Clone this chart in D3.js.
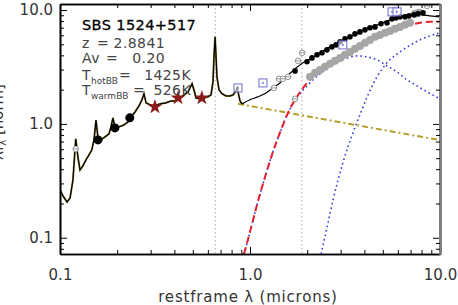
<!DOCTYPE html>
<html><head><meta charset="utf-8">
<script src="https://cdn.jsdelivr.net/npm/d3@7"></script>
<style>body{margin:0;background:#fff} svg{display:block} text{font-family:"DejaVu Sans",sans-serif}</style>
</head><body>
<svg width="458" height="305"></svg>
<script>
// [wavelength (microns), lambda*F_lambda]
var uvSpec = [[0.100,0.263],[0.1037,0.233],[0.109,0.206],[0.113,0.224],[0.117,0.322],[0.121,0.738],[0.1245,0.502],[0.1274,0.394],[0.132,0.428],[0.137,0.483],[0.142,0.534],[0.147,0.591],[0.151,0.723],[0.1547,1.08],[0.1585,0.753],[0.164,0.723],[0.1725,0.769],[0.181,0.817],[0.1855,0.941],[0.190,1.13],[0.1945,0.941],[0.2045,0.941],[0.217,0.98],[0.228,1.04],[0.2365,1.15],[0.248,1.27],[0.2606,1.44],[0.270,1.63],[0.2767,1.84],[0.2838,1.53],[0.2978,1.47],[0.316,1.44],[0.336,1.50],[0.361,1.53],[0.384,1.59],[0.408,1.59],[0.4285,1.69],[0.45,1.80],[0.472,1.91],[0.483,2.07],[0.4955,2.25],[0.507,1.99],[0.52,1.69],[0.5457,1.66],[0.5727,1.69],[0.601,1.73],[0.6235,1.80],[0.6385,2.34],[0.647,4.04],[0.655,5.82],[0.662,4.04],[0.670,2.59],[0.687,1.99],[0.713,1.84],[0.748,1.76],[0.785,1.76],[0.815,1.80],[0.844,1.95],[0.855,2.07],[0.865,1.91],[0.886,1.59],[0.908,1.50]];
var irModel = [[0.908,1.50],[1.0,1.63],[1.102,1.73],[1.213,1.87],[1.321,2.07],[1.438,2.29],[1.567,2.64],[1.726,3.04],[1.90,3.44],[2.12,3.80],[2.335,4.21],[2.637,4.75],[2.98,5.26],[3.36,5.82],[3.79,6.43],[4.28,6.98],[4.83,7.57],[5.46,8.20],[6.16,8.71],[6.95,9.0],[7.85,9.08],[8.85,8.89],[10,8.71]];
var powerLaw = [[0.865,1.50],[10,0.72]];
var bbSum = [[0.930,0.072],[1.0,0.1125],[1.088,0.194],[1.20,0.342],[1.32,0.567],[1.456,0.885],[1.585,1.25],[1.766,1.73],[2.018,2.34],[2.335,2.92],[2.637,3.37],[2.98,3.80],[3.36,4.29],[3.79,4.84],[4.28,5.36],[4.83,5.93],[5.46,6.56],[6.16,6.98],[6.95,7.41],[7.85,7.72],[8.85,7.88],[10,7.88]];
var hotBB = [[0.930,0.072],[1.0,0.1125],[1.088,0.194],[1.20,0.342],[1.32,0.567],[1.456,0.885],[1.585,1.25],[1.766,1.69],[2.018,2.20],[2.335,2.75],[2.735,3.30],[3.16,3.72],[3.66,3.96],[4.13,3.88],[4.66,3.65],[5.26,3.23],[5.94,2.86],[6.70,2.44],[7.57,2.16],[8.55,1.91],[10,1.66]];
var warmBB = [[2.366,0.072],[2.54,0.122],[2.735,0.215],[3.08,0.454],[3.48,0.834],[3.84,1.27],[4.18,1.80],[4.66,2.59],[5.26,3.44],[6.16,4.29],[7.85,5.47],[10,6.31]];
var uvPhot = [[0.1585,0.723],[0.1945,0.922],[0.233,1.13]];
var irPhot = [[1.726,2.92],[1.995,3.51],[2.12,3.80],[2.253,4.04],[2.393,4.21],[2.542,4.47],[2.70,4.75],[2.837,4.94],[2.98,5.26],[3.16,5.58],[3.36,5.82],[3.57,6.18],[3.79,6.43],[4.03,6.70],[4.28,6.98],[4.55,7.11],[4.89,7.57],[5.26,7.72],[5.59,8.37],[5.86,8.54],[6.16,8.71],[6.54,8.71],[6.87,8.89],[7.30,9.08],[7.66,9.27],[8.14,9.46]];
var irsSpec = [[2.07,2.59],[2.20,2.81],[2.335,2.98],[2.48,3.17],[2.637,3.37],[2.80,3.58],[2.98,3.80],[3.16,4.04],[3.36,4.29],[3.57,4.56],[3.79,4.84],[4.03,5.15],[4.28,5.47],[4.55,5.82],[4.83,6.05],[5.14,6.31],[5.46,6.56],[5.79,6.84],[6.16,7.11],[6.54,7.41],[6.95,7.72],[7.38,9.27],[7.74,9.46]];
var starPts = [[0.316,1.41],[0.418,1.69],[0.558,1.69]];
var squarePts = [[0.865,2.07],[1.17,2.29],[3.08,4.94],[5.59,9.64],[5.94,9.64]];
var crossPts = [[0.121,0.603],[1.337,2.07],[1.42,2.49],[1.49,2.49],[1.585,2.59],[1.726,1.66],[1.79,3.58],[1.88,4.21],[8.55,10.9]];
var lineLams = [0.6563, 1.875];
var xMajor = [0.1, 1, 10], xMinor = [0.2,0.3,0.4,0.5,0.6,0.7,0.8,0.9,2,3,4,5,6,7,8,9];
var yMajor = [0.1, 1, 10], yMinor = [0.08,0.09,0.2,0.3,0.4,0.5,0.6,0.7,0.8,0.9,2,3,4,5,6,7,8,9];

var svg = d3.select("svg"),
    L = 60, R = 440, T = 4, B = 254;
var x = d3.scaleLog().domain([0.1, 10]).range([L, R]);
var y = d3.scaleLog().domain([0.072, 11.3]).range([B, T]);
var fmt = d3.format(".1f");

svg.append("clipPath").attr("id", "clip").append("rect")
    .attr("x", L).attr("y", T).attr("width", R - L).attr("height", B - T);
var g = svg.append("g").attr("clip-path", "url(#clip)");

// emission line markers
g.selectAll(".vl").data(lineLams).enter().append("line")
    .attr("x1", d => x(d)).attr("x2", d => x(d)).attr("y1", T).attr("y2", B)
    .attr("stroke", "#aaa").attr("stroke-width", 1).attr("stroke-dasharray", "1.5,2.5");

var line = d3.line().x(d => x(d[0])).y(d => y(d[1]));
var smooth = d3.line().x(d => x(d[0])).y(d => y(d[1])).curve(d3.curveMonotoneX);

g.append("path").attr("d", line(powerLaw)).attr("fill", "none")
    .attr("stroke", "#b59f2c").attr("stroke-width", 2).attr("stroke-dasharray", "6,3,2,3");
g.append("path").attr("d", smooth(hotBB)).attr("fill", "none")
    .attr("stroke", "#3b3be6").attr("stroke-width", 1.6).attr("stroke-dasharray", "1.6,3");
g.append("path").attr("d", smooth(warmBB)).attr("fill", "none")
    .attr("stroke", "#3b3be6").attr("stroke-width", 1.6).attr("stroke-dasharray", "1.6,3");
g.append("path").attr("d", smooth(bbSum)).attr("fill", "none")
    .attr("stroke", "#e8202a").attr("stroke-width", 2).attr("stroke-dasharray", "7,4");

g.append("path").attr("d", line(uvSpec)).attr("fill", "none")
    .attr("stroke", "#7a6c20").attr("stroke-width", 1.9);
g.append("path").attr("d", line(uvSpec)).attr("fill", "none")
    .attr("stroke", "#000").attr("stroke-width", 1.1);
g.append("path").attr("d", smooth(irModel)).attr("fill", "none")
    .attr("stroke", "#000").attr("stroke-width", 1.2);

g.selectAll(".irs").data(irsSpec).enter().append("circle")
    .attr("cx", d => x(d[0])).attr("cy", d => y(d[1])).attr("r", 4)
    .attr("fill", "#a6a6a6");
g.selectAll(".irp").data(irPhot).enter().append("circle")
    .attr("cx", d => x(d[0])).attr("cy", d => y(d[1])).attr("r", 2.8)
    .attr("fill", "#000");
g.selectAll(".uvp").data(uvPhot).enter().append("circle")
    .attr("cx", d => x(d[0])).attr("cy", d => y(d[1])).attr("r", 4.5)
    .attr("fill", "#000");

var cross = g.selectAll(".cr").data(crossPts).enter().append("g")
    .attr("transform", d => "translate(" + x(d[0]) + "," + y(d[1]) + ")");
cross.append("circle").attr("r", 2.8).attr("fill", "#fff").attr("stroke", "#888").attr("stroke-width", 0.9);
cross.append("line").attr("x1", -2.8).attr("x2", 2.8).attr("stroke", "#888").attr("stroke-width", 0.9);

var sq = g.selectAll(".sq").data(squarePts).enter().append("g")
    .attr("transform", d => "translate(" + x(d[0]) + "," + y(d[1]) + ")");
sq.append("rect").attr("x", -4).attr("y", -4).attr("width", 8).attr("height", 8)
    .attr("fill", "#fff").attr("fill-opacity", 0.6).attr("stroke", "#6d6dcc").attr("stroke-width", 1);
sq.append("rect").attr("x", -0.7).attr("y", -1).attr("width", 1.4).attr("height", 2).attr("fill", "#6d6dcc");

g.selectAll(".st").data(starPts).enter().append("path")
    .attr("d", d3.symbol().type(d3.symbolStar).size(70))
    .attr("transform", d => "translate(" + x(d[0]) + "," + y(d[1]) + ")")
    .attr("fill", "#8b1a1a");

// axes
function styleAxis(a, col, w) {
  a.select(".domain").attr("stroke", col).attr("stroke-width", w);
  a.selectAll(".tick line").attr("stroke", "#000").attr("stroke-width", 1);
  a.selectAll("text").attr("font-family", "DejaVu Sans").attr("font-size", 15).attr("fill", "#333");
}
var ax;
ax = svg.append("g").attr("transform", "translate(0," + B + ")")
    .call(d3.axisBottom(x).tickValues(xMajor).tickSize(-7).tickSizeOuter(0).tickPadding(15).tickFormat(fmt));
styleAxis(ax, "#000", 1.6);
ax = svg.append("g").attr("transform", "translate(0," + B + ")")
    .call(d3.axisBottom(x).tickValues(xMinor).tickSize(-4).tickSizeOuter(0).tickFormat(""));
styleAxis(ax, "#000", 1.6);
ax = svg.append("g").attr("transform", "translate(0," + T + ")")
    .call(d3.axisTop(x).tickValues(xMajor).tickSize(-7).tickSizeOuter(0).tickFormat(""));
styleAxis(ax, "#000", 1.6);
ax = svg.append("g").attr("transform", "translate(0," + T + ")")
    .call(d3.axisTop(x).tickValues(xMinor).tickSize(-4).tickSizeOuter(0).tickFormat(""));
styleAxis(ax, "#000", 1.6);
ax = svg.append("g").attr("transform", "translate(" + L + ",0)")
    .call(d3.axisLeft(y).tickValues(yMajor).tickSize(-7).tickSizeOuter(0).tickPadding(7).tickFormat(fmt));
styleAxis(ax, "#000", 1.6);
ax = svg.append("g").attr("transform", "translate(" + L + ",0)")
    .call(d3.axisLeft(y).tickValues(yMinor).tickSize(-4).tickSizeOuter(0).tickFormat(""));
styleAxis(ax, "#000", 1.6);
ax = svg.append("g").attr("transform", "translate(" + R + ",0)")
    .call(d3.axisRight(y).tickValues(yMajor).tickSize(-7).tickSizeOuter(0).tickFormat(""));
styleAxis(ax, "#808080", 3);
ax = svg.append("g").attr("transform", "translate(" + R + ",0)")
    .call(d3.axisRight(y).tickValues(yMinor).tickSize(-4).tickSizeOuter(0).tickFormat(""));
styleAxis(ax, "#808080", 3);

// axis titles
svg.append("text").attr("x", 248).attr("y", 302).attr("text-anchor", "middle")
    .attr("font-size", 15).attr("letter-spacing", 0.8).attr("fill", "#333")
    .text("restframe λ (microns)");
var yl = svg.append("text").attr("transform", "translate(3,122) rotate(-90)")
    .attr("text-anchor", "middle").attr("font-size", 15).attr("fill", "#333");
yl.append("tspan").text("λf");
yl.append("tspan").attr("font-size", 10).attr("dy", 3).text("λ");
yl.append("tspan").attr("dy", -3).text(" [norm]");

// info block
svg.append("text").attr("x", 82).attr("y", 30).attr("font-size", 14.5).attr("letter-spacing", 0.4)
    .attr("fill", "#000").attr("stroke", "#000").attr("stroke-width", 0.3).text("SBS 1524+517");
var info = svg.append("g").attr("fill", "#444").attr("font-size", 14).attr("letter-spacing", 0.4);
var t1 = info.append("text").attr("y", 48);
t1.append("tspan").attr("x", 82).text("z");
t1.append("tspan").attr("x", 97).text("=");
t1.append("tspan").attr("x", 165).attr("text-anchor", "end").text("2.8841");
var t2 = info.append("text").attr("y", 63);
t2.append("tspan").attr("x", 82).text("Av");
t2.append("tspan").attr("x", 106).text("=");
t2.append("tspan").attr("x", 165).attr("text-anchor", "end").text("0.20");
var t3 = info.append("text").attr("y", 80);
t3.append("tspan").attr("x", 82).text("T");
t3.append("tspan").attr("font-size", 9).attr("letter-spacing", 0).attr("dy", 3.5).text("hotBB");
t3.append("tspan").attr("x", 119).attr("dy", -3.5).text("=");
t3.append("tspan").attr("x", 191).attr("text-anchor", "end").text("1425K");
var t4 = info.append("text").attr("y", 95);
t4.append("tspan").attr("x", 82).text("T");
t4.append("tspan").attr("font-size", 9).attr("letter-spacing", 0).attr("dy", 3.5).text("warmBB");
t4.append("tspan").attr("x", 133).attr("dy", -3.5).text("=");
t4.append("tspan").attr("x", 191).attr("text-anchor", "end").text("526K");
</script>
</body></html>
